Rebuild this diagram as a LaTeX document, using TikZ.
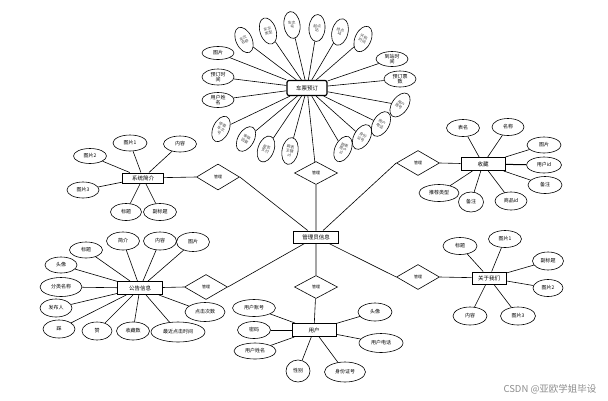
\documentclass[tikz,border=0pt]{standalone}
\usepackage{fontspec}
\setmainfont{Noto Sans CJK SC}
\usetikzlibrary{shapes.geometric}

\begin{document}
\begin{tikzpicture}[x=1pt,y=-1pt,line width=0.6pt,
    attr/.style={draw,ellipse,inner sep=0pt,minimum width=33,minimum height=17,align=center,font=\fontsize{5}{5.5}\selectfont},
    vattr/.style={attr,minimum width=16,minimum height=27,text=black!75,font=\fontsize{3.8}{4.2}\selectfont},
    entity/.style={draw,rectangle,line width=1pt,minimum width=44,minimum height=13,inner sep=1pt,font=\fontsize{5.5}{6}\selectfont},
    rel/.style={draw,diamond,minimum width=43,minimum height=25,inner sep=0pt,font=\fontsize{4}{4.5}\selectfont}]
    \useasboundingbox (0,0) rectangle (608,400);

    % entities
    \node[entity,rounded corners=2pt,line width=1.2pt,minimum width=40,minimum height=15] (cp) at (307,88) {车票预订};
    \node[entity,minimum width=45,minimum height=12] (gly) at (316,237) {管理员信息};
    \node[entity,minimum width=41,minimum height=10] (xt) at (143,178) {系统简介};
    \node[entity] (sc) at (483,164) {收藏};
    \node[entity,minimum width=45] (gg) at (140,288) {公告信息};
    \node[entity,minimum width=34,minimum height=12] (gy) at (489,278) {关于我们};
    \node[entity] (yh) at (314,330) {用户};

    % relations
    \node[rel,minimum height=23] (r1) at (316,173) {管理};
    \node[rel,minimum height=23] (r2) at (316,287) {管理};
    \node[rel,minimum height=26] (r3) at (218,177) {管理};
    \node[rel] (r4) at (418,163) {管理};
    \node[rel] (r5) at (206,287) {管理};
    \node[rel] (r6) at (418,277) {管理};

    \draw (gly) -- (r1) (r1) -- (cp)
          (gly) -- (r2) (r2) -- (yh)
          (xt) -- (r3.west) (r3.east) -- (gly)
          (sc) -- (r4.east) (r4.west) -- (gly)
          (gg) -- (r5.west) (r5.east) -- (gly)
          (gy) -- (r6.east) (r6.west) -- (gly);

    % 车票预订
    \node[attr,minimum width=32,minimum height=13] (t1) at (218,53) {图片};
    \node[vattr,rotate=25] (t2) at (244,40) {车次\\名称};
    \node[vattr,rotate=18] (t3) at (268,31) {车次\\类型};
    \node[vattr,rotate=8] (t4) at (292,25) {车次\\号};
    \node[vattr,rotate=-4] (t5) at (317,28) {起点\\站};
    \node[vattr,rotate=-14] (t6) at (340,32) {终点\\站};
    \node[vattr,rotate=-24] (t7) at (363,39) {开始\\时间};
    \node[attr,minimum width=32,minimum height=15] (t8) at (392,59) {到站时\\间};
    \node[attr,minimum width=32,minimum height=16] (t9) at (400,79) {预订票\\数};
    \node[vattr,rotate=-35] (t10) at (400,105) {用户\\账号};
    \node[vattr,rotate=-30] (t11) at (381,124) {用户\\电话};
    \node[vattr,rotate=-30] (t12) at (362,137) {身份\\证号};
    \node[vattr,rotate=-25] (t13) at (343,149) {跨表\\用户\\id};
    \node[vattr,rotate=-10] (t14) at (290,151) {跨表\\主键\\id};
    \node[vattr,rotate=-20] (t15) at (266,149) {是否\\支付};
    \node[vattr,rotate=-30] (t16) at (246,139) {审核\\回复};
    \node[vattr,rotate=-25] (t17) at (221,129) {停靠\\车次\\号};
    \node[attr,minimum width=32,minimum height=15] (t18) at (218,100) {用户姓\\名};
    \node[attr,minimum width=32,minimum height=16] (t19) at (218,77) {预订时\\间};
    \draw (cp) edge (t1) edge (t2) edge (t3) edge (t4) edge (t5) edge (t6) edge (t7)
               edge (t8) edge (t9) edge (t10) edge (t11) edge (t12) edge (t13)
               edge (t14) edge (t15) edge (t16) edge (t17) edge (t18) edge (t19);

    % 系统简介
    \node[attr,minimum width=34,minimum height=16] (x1) at (130,143) {图片1};
    \node[attr,minimum height=16] (x2) at (180,144) {内容};
    \node[attr,minimum height=15] (x3) at (90,156) {图片2};
    \node[attr,minimum width=32,minimum height=16] (x4) at (83,190) {图片3};
    \node[attr,minimum width=31] (x5) at (126,212) {标题};
    \node[attr] (x6) at (160,212) {副标题};
    \draw (xt) edge (x1) edge (x2) edge (x3) edge (x4) edge (x5) edge (x6);

    % 收藏
    \node[attr] (s1) at (463,128) {表名};
    \node[attr,minimum width=32] (s2) at (508,127) {名称};
    \node[attr,minimum width=34,minimum height=16] (s3) at (544,145) {图片};
    \node[attr,minimum width=35,minimum height=16] (s4) at (544,165) {用户id};
    \node[attr,minimum width=34] (s5) at (545,185) {备注};
    \node[attr,minimum width=40] (s6) at (439,193) {推荐类型};
    \node[attr,minimum width=25,minimum height=20] (s7) at (471,202) {备注};
    \node[attr,minimum width=32,minimum height=18] (s8) at (511,201) {商品id};
    \draw (sc) edge (s1) edge (s2) edge (s3) edge[line width=1pt] (s4) edge (s5) edge (s6) edge (s7) edge (s8);

    % 公告信息
    \node[attr,minimum height=16] (g1) at (86,250) {标题};
    \node[attr,minimum height=18] (g2) at (123,241) {简介};
    \node[attr,minimum height=18] (g3) at (160,241) {内容};
    \node[attr,minimum height=19] (g4) at (193,242) {图片};
    \node[attr,minimum width=32,minimum height=16] (g5) at (61,265) {头像};
    \node[attr,minimum width=42,minimum height=19] (g6) at (61,287) {分类名称};
    \node[attr,minimum width=32,minimum height=18] (g7) at (56,308) {发布人};
    \node[attr,minimum width=32,minimum height=18] (g8) at (59,329) {踩};
    \node[attr,minimum width=30,minimum height=18] (g9) at (97,331) {赞};
    \node[attr,minimum height=18] (g10) at (133,331) {收藏数};
    \node[attr,minimum width=54,minimum height=20] (g11) at (178,332) {最近点击时间};
    \node[attr,minimum width=40,minimum height=19] (g12) at (205,312) {点击次数};
    \draw (gg) edge (g1) edge (g2) edge (g3) edge (g4) edge (g5) edge (g6)
               edge (g7) edge (g8) edge (g9) edge (g10) edge (g11) edge (g12);

    % 关于我们
    \node[attr,minimum width=34] (a1) at (460,246) {标题};
    \node[attr] (a2) at (505,239) {图片1};
    \node[attr,minimum width=31,minimum height=18] (a3) at (548,261) {副标题};
    \node[attr,minimum width=30] (a4) at (548,288) {图片2};
    \node[attr,minimum width=34,minimum height=18] (a5) at (470,316) {内容};
    \node[attr,minimum width=35,minimum height=18] (a6) at (518,316) {图片3};
    \draw (gy) edge (a1) edge (a2) edge (a3) edge (a4) edge (a5) edge (a6);

    % 用户
    \node[attr,minimum width=43] (u1) at (254,308) {用户账号};
    \node[attr] (u2) at (254,330) {密码};
    \node[attr,minimum width=42,minimum height=16] (u3) at (255,351) {用户姓名};
    \node[attr,minimum width=24,minimum height=22] (u4) at (298,371) {性别};
    \node[attr,minimum width=41,minimum height=20] (u5) at (345,372) {身份证号};
    \node[attr,minimum width=34,minimum height=18] (u6) at (375,312) {头像};
    \node[attr,minimum width=44,minimum height=19] (u7) at (381,343) {用户电话};
    \draw (yh) edge (u1) edge (u2) edge (u3) edge (u4) edge (u5) edge (u6) edge (u7);

    \node[text=black!45,font=\fontsize{9.5}{10}\selectfont] (wm) at (550,389) {CSDN @亚欧学姐毕设};
\end{tikzpicture}
\end{document}
